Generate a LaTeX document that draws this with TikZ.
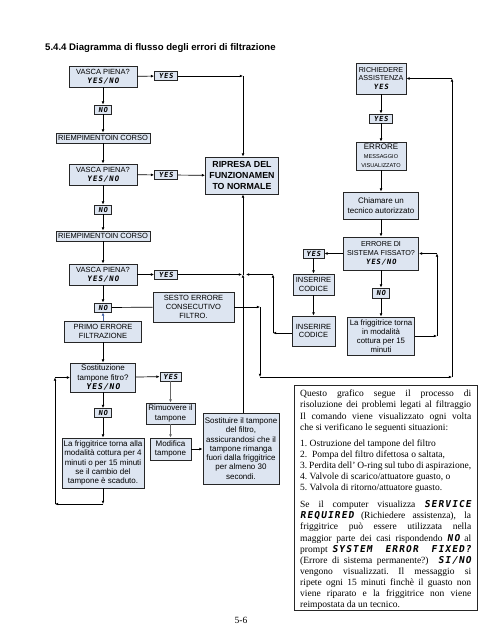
\documentclass[tikz,border=0pt]{standalone}
\usepackage{fontspec}
\setmainfont{Liberation Serif}
\setsansfont{Liberation Sans}
\newfontfamily\lcdfont[FakeSlant=0.15,LetterSpace=12]{DejaVu Sans Mono}
\usetikzlibrary{arrows.meta}
\definecolor{boxfill}{RGB}{221,229,241}
\definecolor{flowblue}{RGB}{70,100,165}
\newcommand{\lcdtxt}[1]{{\lcdfont\bfseries #1}}

\begin{document}
\begin{tikzpicture}[x=1pt, y=-1pt,
        box/.style={draw=black!85, fill=boxfill, line width=0.8pt, align=center, inner sep=0.6pt, font=\sffamily\fontsize{7.5}{8.8}\selectfont},
        txtbox/.style={box, font=\sffamily\fontsize{8}{9.3}\selectfont},
        lcdtag/.style={draw=black!85, fill=boxfill, line width=0.8pt, inner sep=0.6pt, minimum height=9pt, font=\fontsize{7}{7}\selectfont\lcdfont\bfseries},
        flow/.style={draw, line width=0.7pt, -{Latex[length=3.2pt,width=2.8pt]}},
        grayflow/.style={flow, draw=black!60, line width=1.4pt},
        link/.style={draw, line width=0.7pt},
    ]
    \path[use as bounding box, fill=white] (0,0) rectangle (495,640);

    \node[anchor=west, inner sep=0pt, font=\sffamily\bfseries\fontsize{9.6}{11}\selectfont] (title) at (45,48) {5.4.4 Diagramma di flusso degli errori di filtrazione};

    % left column
    \node[box, minimum width=68pt, minimum height=21pt] (vasca1) at (103,76.5) {VASCA PIENA?\\\lcdtxt{YES/NO}};
    \node[lcdtag, minimum width=23pt] (yes1) at (166,76) {YES};
    \node[lcdtag, minimum width=17pt] (no1) at (103,109.5) {NO};
    \node[box, minimum width=94pt, minimum height=10pt] (riemp1) at (103,138) {RIEMPIMENTOIN CORSO};
    \node[box, minimum width=68pt, minimum height=21pt] (vasca2) at (103,174.5) {VASCA PIENA?\\\lcdtxt{YES/NO}};
    \node[lcdtag, minimum width=23pt] (yes2) at (166,175) {YES};
    \node[lcdtag, minimum width=17pt] (no2) at (103,209.5) {NO};
    \node[box, minimum width=94pt, minimum height=10pt] (riemp2) at (103,236) {RIEMPIMENTOIN CORSO};
    \node[box, minimum width=68pt, minimum height=21pt] (vasca3) at (103,274.5) {VASCA PIENA?\\\lcdtxt{YES/NO}};
    \node[lcdtag, minimum width=23pt] (yes3) at (166,274.5) {YES};
    \node[lcdtag, minimum width=17pt] (no3) at (103,307.5) {NO};
    \node[box, minimum width=77pt, minimum height=21pt] (primo) at (103,331.5) {PRIMO ERRORE\\FILTRAZIONE};
    \node[box, minimum width=81pt, minimum height=30pt] (sesto) at (193.5,307) {SESTO ERRORE\\CONSECUTIVO\\FILTRO.};
    \node[txtbox, minimum width=65pt, minimum height=29pt] (sostituz) at (103,377.5) {Sostituzione\\tampone fitro?\\\lcdtxt{YES/NO}};
    \node[lcdtag, minimum width=21pt] (yes4) at (170.5,376.5) {YES};
    \node[lcdtag, minimum width=17pt] (no4) at (103,413) {NO};
    \node[txtbox, minimum width=82pt, minimum height=50pt] (friggi) at (103,463) {La friggitrice torna alla\\modalità cottura per 4\\minuti o per 15 minuti\\se il cambio del\\tampone è scaduto.};
    \node[txtbox, minimum width=49pt, minimum height=21pt] (rimuovere) at (170.5,413.5) {Rimuovere il\\tampone};
    \node[txtbox, minimum width=41pt, minimum height=22pt] (modifica) at (170.5,449) {Modifica\\tampone};
    \node[txtbox, minimum width=76pt, minimum height=71pt] (sostituire) at (241,448.5) {Sostituire il tampone\\del filtro,\\assicurandosi che il\\tampone rimanga\\fuori dalla friggitrice\\per almeno 30\\secondi.};
    \node[box, minimum width=73pt, minimum height=37pt, font=\sffamily\bfseries\fontsize{8.8}{11}\selectfont] (ripresa) at (242,175.5) {RIPRESA DEL\\FUNZIONAMEN\\TO NORMALE};

    % right column
    \node[box, minimum width=50pt, minimum height=31pt, font=\sffamily\fontsize{7.2}{8.6}\selectfont] (richiedere) at (381,78.5) {RICHIEDERE\\ASSISTENZA\\\lcdtxt{YES}};
    \node[lcdtag, minimum width=23pt] (yes5) at (381,118.5) {YES};
    \node[box, minimum width=50pt, minimum height=28pt] (errore) at (381,156) {\fontsize{8}{9}\selectfont ERRORE\\\fontsize{5.6}{6.6}\selectfont MESSAGGIO\\\fontsize{5.6}{6.6}\selectfont VISUALIZZATO};
    \node[txtbox, minimum width=75pt, minimum height=27pt] (chiamare) at (381,205.5) {Chiamare un\\tecnico autorizzato};
    \node[box, minimum width=75pt, minimum height=33pt, font=\sffamily\fontsize{7.2}{8.8}\selectfont] (sistema) at (381,253.5) {ERRORE DI\\SISTEMA FISSATO?\\\lcdtxt{YES/NO}};
    \node[lcdtag, minimum width=21pt] (yes6) at (313.5,253.5) {YES};
    \node[box, minimum width=41pt, minimum height=21pt] (inserire1) at (313.5,284.5) {INSERIRE\\CODICE};
    \node[box, minimum width=43pt, minimum height=30pt] (inserire2) at (313.5,331) {INSERIRE\\CODICE};
    \node[lcdtag, minimum width=17pt, minimum height=10pt] (no6) at (381,293) {NO};
    \node[txtbox, minimum width=67pt, minimum height=38pt, font=\sffamily\fontsize{7.8}{9}\selectfont] (torna) at (381,336) {La friggitrice torna\\in modalità\\cottura per 15\\minuti};

    % corners of the connectors
    \coordinate (c1) at (243,76);
    \coordinate (c2) at (243,274.5);
    \coordinate (c3) at (273,274.5);
    \coordinate (c4) at (273,333);
    \coordinate (c5) at (260,307);
    \coordinate (c6) at (260,377);
    \coordinate (c7) at (452,377);
    \coordinate (c8) at (452,78.5);
    \coordinate (c9) at (103,504);
    \coordinate (c10) at (55,504);
    \coordinate (c11) at (55,377.5);
    \coordinate (c12) at (437,336);
    \coordinate (c13) at (437,253.5);

    \draw[flow] (vasca1) -- (yes1);
    \draw[flow] (yes1) -- (c1);
    \draw[flow] (c1) -- (c1 |- ripresa.north);
    \draw[flow] (vasca1) -- (no1);
    \draw[flow] (no1) -- (riemp1);
    \draw[flow] (riemp1) -- (vasca2);
    \draw[flow] (vasca2) -- (yes2);
    \draw[flow] (yes2) -- (ripresa);
    \draw[flow] (vasca2) -- (no2);
    \draw[flow] (no2) -- (riemp2);
    \draw[flow] (riemp2) -- (vasca3);
    \draw[flow] (vasca3) -- (yes3);
    \draw[flow, shorten >=1pt] (yes3) -- (c2);
    \draw[flow] (c2) -- (c2 |- ripresa.south);
    \draw[flow] (c2 |- sostituire.north) -- (c2);
    \draw[flow] (vasca3) -- (no3);
    \draw[flow, draw=flowblue] (primo) -- (no3);
    \draw[link] (no3) -- (sesto);
    \draw[flow] (sesto) -- (c5);
    \draw[flow] (c5) -- (c6);
    \draw[flow] (c6) -- (c7);
    \draw[flow] (c7) -- (c8);
    \draw[flow] (c8) -- (richiedere);
    \draw[flow] (primo) -- (sostituz);
    \draw[flow] (sostituz) -- (yes4);
    \draw[grayflow] (yes4) -- (rimuovere);
    \draw[grayflow] (rimuovere) -- (modifica);
    \draw[flow] (modifica) -- (modifica -| sostituire.west);
    \draw[flow] (sostituz) -- (no4);
    \draw[flow] (no4) -- (friggi);
    \draw[flow] (friggi) -- (c9);
    \draw[flow] (c9) -- (c10);
    \draw[flow] (c10) -- (c11);
    \draw[flow] (c11) -- (sostituz);

    \draw[flow] (richiedere) -- (yes5);
    \draw[flow] (yes5) -- (errore);
    \draw[flow] (errore) -- (chiamare);
    \draw[flow] (chiamare) -- (sistema);
    \draw[flow] (sistema) -- (yes6);
    \draw[flow] (yes6) -- (inserire1);
    \draw[flow] (inserire1) -- (inserire2);
    \draw[flow] (inserire2.west |- c4) -- (c4);
    \draw[flow] (c4) -- (c3);
    \draw[flow, shorten >=3pt] (c3) -- (c2);
    \draw[flow] (sistema) -- (no6);
    \draw[flow] (no6) -- (torna);
    \draw[flow] (torna) -- (c12);
    \draw[flow] (c12) -- (c13);
    \draw[flow] (c13) -- (sistema);

    % note
    \node[draw=black!85, line width=0.9pt, anchor=north west, minimum width=183pt, minimum height=225pt, inner sep=0pt] (notebox) at (294,385) {};
    \begin{scope}
    \clip (notebox.north west) rectangle (notebox.south east);
    \node[anchor=north west, inner sep=0pt, text width=171pt, align=justify, font=\fontsize{9.5}{11.1}\selectfont] (note) at (300,390) {%
        Questo grafico segue il processo di\linebreak risoluzione dei problemi legati al filtraggio\linebreak Il comando viene visualizzato ogni volta\linebreak che si verificano le seguenti situazioni:\par
        \vspace{5pt}
        1.\ Ostruzione del tampone del filtro\newline
        2.\ \ Pompa del filtro difettosa o saltata,\newline
        3.\ Perdita dell’ O-ring sul tubo di aspirazione,\newline
        4.\ Valvole di scarico/attuatore guasto, o\newline
        5.\ Valvola di ritorno/attuatore guasto.\par
        \vspace{6pt}
        Se il computer visualizza \lcdtxt{SERVICE}\linebreak \lcdtxt{REQUIRED} (Richiedere assistenza), la\linebreak friggitrice può essere utilizzata nella\linebreak maggior parte dei casi rispondendo \lcdtxt{NO} al\linebreak prompt \lcdtxt{SYSTEM ERROR FIXED?}\linebreak (Errore di sistema permanente?) \lcdtxt{SI/NO}\linebreak vengono visualizzati.\quad Il messaggio si\linebreak ripete ogni 15 minuti finchè il guasto non\linebreak viene riparato e la friggitrice non viene\linebreak reimpostata da un tecnico.};
    \end{scope}

    \node[font=\fontsize{9.5}{11}\selectfont] (pagenum) at (241,620) {5-6};
\end{tikzpicture}
\end{document}
